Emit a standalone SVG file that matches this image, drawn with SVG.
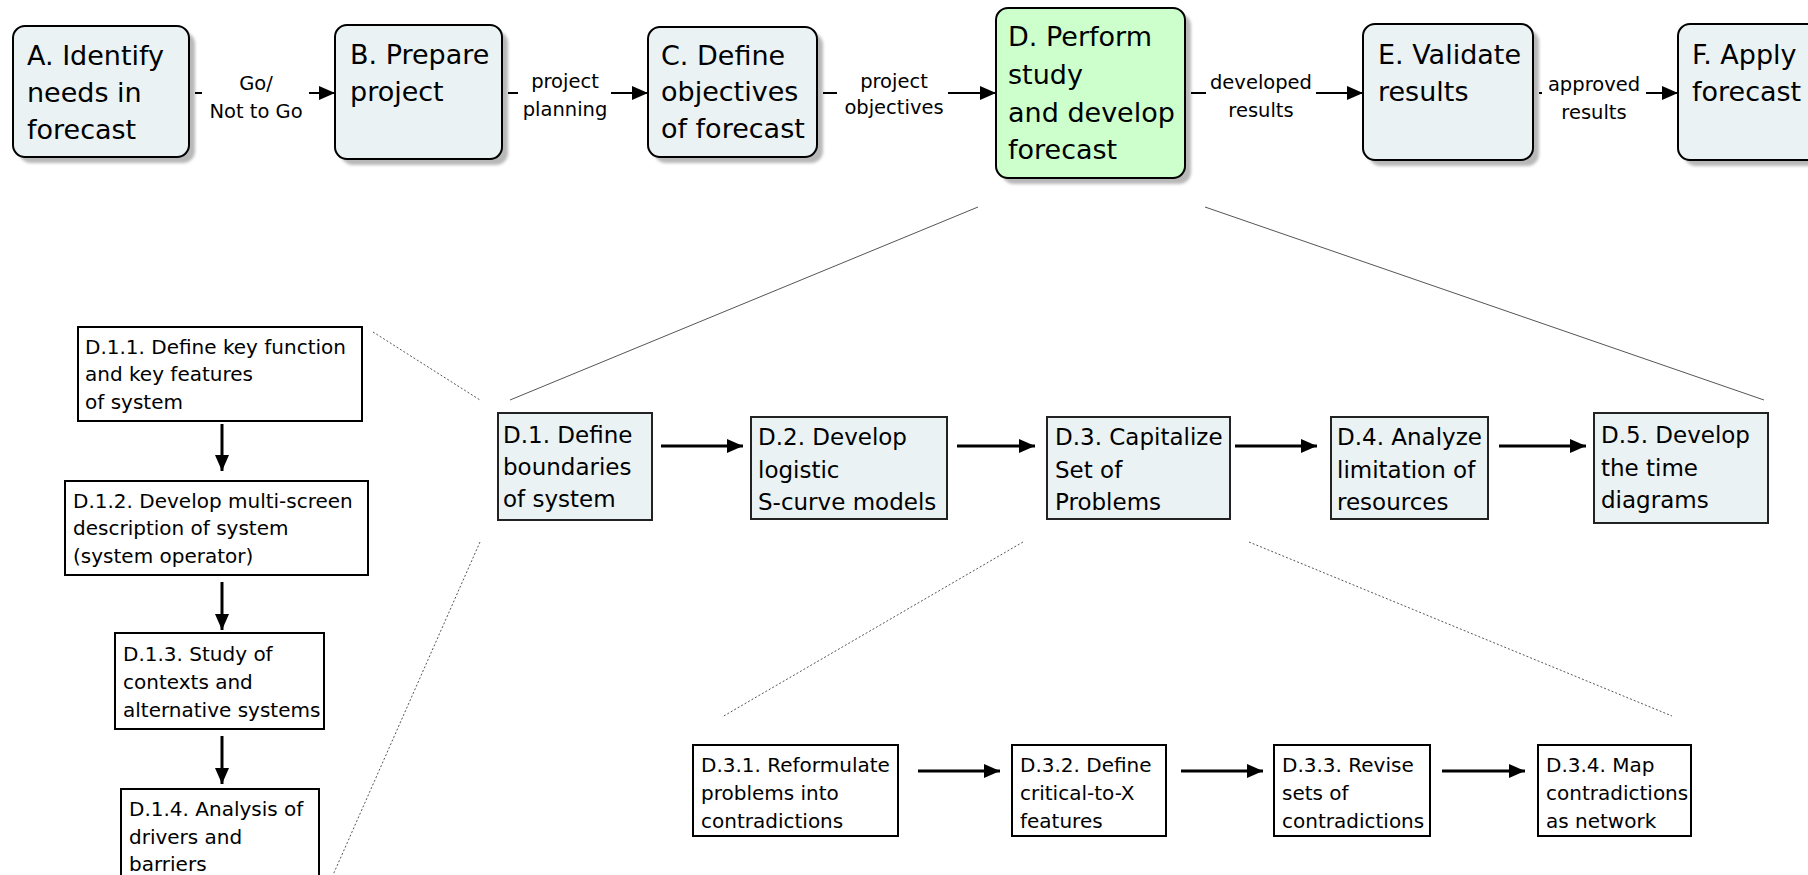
<svg xmlns="http://www.w3.org/2000/svg" width="1808" height="875" viewBox="0 0 1808 875">
  <style>
    .top { fill: #EAF2F4; stroke: #000; stroke-width: 2; }
    .topD { fill: #CCFFCC; stroke: #000; stroke-width: 2; }
    .shadow { fill: #b8b8b8; filter: url(#soft); }
    .mid { fill: #EAF2F4; stroke: #222; stroke-width: 2; }
    .sub { fill: #fff; stroke: #000; stroke-width: 2; }
    .t27 { font-family: "DejaVu Sans", Verdana, sans-serif; font-size: 27px; fill: #000; }
    .t23 { font-family: "DejaVu Sans", Verdana, sans-serif; font-size: 23px; fill: #000; }
    .t20 { font-family: "DejaVu Sans", Verdana, sans-serif; font-size: 20px; fill: #000; }
    .lbl { font-family: "DejaVu Sans", Verdana, sans-serif; font-size: 19.5px; fill: #000; text-anchor: middle; }
    .arrow { fill: none; stroke: #000; stroke-width: 3; marker-end: url(#head); }
    .link { fill: none; stroke: #000; stroke-width: 2; marker-end: url(#head); }
    .zoom { fill: none; stroke: #555; stroke-width: 1; }
    .zoomdot { fill: none; stroke: #555; stroke-width: 1; stroke-dasharray: 2 2; }
  </style>
  <defs>
    <filter id="soft" x="-10%" y="-10%" width="120%" height="120%">
      <feGaussianBlur stdDeviation="1.5"/>
    </filter>
    <marker id="head" viewBox="0 0 16 14" refX="16" refY="7" markerWidth="16" markerHeight="14" markerUnits="userSpaceOnUse" orient="auto">
      <path d="M0,0 L16,7 L0,14 z" fill="#000"/>
    </marker>
  </defs>
  <rect width="1808" height="875" fill="#fff"/>

  <!-- expansion guides -->
  <g id="guides">
    <line class="zoom" x1="978" y1="207" x2="510" y2="400"/>
    <line class="zoom" x1="1205" y1="207" x2="1764" y2="400"/>
    <line class="zoomdot" x1="373" y1="332" x2="480" y2="400"/>
    <line class="zoomdot" x1="480" y1="542" x2="333" y2="875"/>
    <line class="zoomdot" x1="1023" y1="542" x2="722" y2="717"/>
    <line class="zoomdot" x1="1249" y1="542" x2="1672" y2="716"/>
  </g>

  <!-- top-level process -->
  <g id="nodeA">
    <rect class="shadow" x="19" y="32" width="176" height="131" rx="12"/>
    <rect class="top" x="13" y="26" width="176" height="131" rx="12"/>
    <text class="t27"><tspan x="27" y="65">A. Identify</tspan><tspan x="27" y="102">needs in</tspan><tspan x="27" y="139">forecast</tspan></text>
  </g>
  <g id="nodeB">
    <rect class="shadow" x="341" y="31" width="167" height="134" rx="12"/>
    <rect class="top" x="335" y="25" width="167" height="134" rx="12"/>
    <text class="t27"><tspan x="350" y="64">B. Prepare</tspan><tspan x="350" y="101">project</tspan></text>
  </g>
  <g id="nodeC">
    <rect class="shadow" x="654" y="33" width="169" height="130" rx="12"/>
    <rect class="top" x="648" y="27" width="169" height="130" rx="12"/>
    <text class="t27"><tspan x="661" y="65">C. Define</tspan><tspan x="661" y="101">objectives</tspan><tspan x="661" y="138">of forecast</tspan></text>
  </g>
  <g id="nodeD">
    <rect class="shadow" x="1002" y="14" width="189" height="170" rx="12"/>
    <rect class="topD" x="996" y="8" width="189" height="170" rx="12"/>
    <text class="t27"><tspan x="1008" y="46">D. Perform</tspan><tspan x="1008" y="84">study</tspan><tspan x="1008" y="122">and develop</tspan><tspan x="1008" y="159">forecast</tspan></text>
  </g>
  <g id="nodeE">
    <rect class="shadow" x="1369" y="30" width="170" height="136" rx="12"/>
    <rect class="top" x="1363" y="24" width="170" height="136" rx="12"/>
    <text class="t27"><tspan x="1378" y="64">E. Validate</tspan><tspan x="1378" y="101">results</tspan></text>
  </g>
  <g id="nodeF">
    <rect class="shadow" x="1684" y="30" width="170" height="136" rx="12"/>
    <rect class="top" x="1678" y="24" width="170" height="136" rx="12"/>
    <text class="t27"><tspan x="1692" y="64">F. Apply</tspan><tspan x="1692" y="101">forecast</tspan></text>
  </g>

  <!-- D breakdown -->
  <g id="nodeD1">
    <rect class="mid" x="498" y="413" width="154" height="107"/>
    <text class="t23"><tspan x="503" y="443">D.1. Define</tspan><tspan x="503" y="475">boundaries</tspan><tspan x="503" y="507">of system</tspan></text>
  </g>
  <g id="nodeD2">
    <rect class="mid" x="751" y="417" width="196" height="102"/>
    <text class="t23"><tspan x="758" y="445">D.2. Develop</tspan><tspan x="758" y="478">logistic</tspan><tspan x="758" y="510">S-curve models</tspan></text>
  </g>
  <g id="nodeD3">
    <rect class="mid" x="1047" y="417" width="183" height="102"/>
    <text class="t23"><tspan x="1055" y="445">D.3. Capitalize</tspan><tspan x="1055" y="478">Set of</tspan><tspan x="1055" y="510">Problems</tspan></text>
  </g>
  <g id="nodeD4">
    <rect class="mid" x="1331" y="417" width="157" height="102"/>
    <text class="t23"><tspan x="1337" y="445">D.4. Analyze</tspan><tspan x="1337" y="478">limitation of</tspan><tspan x="1337" y="510">resources</tspan></text>
  </g>
  <g id="nodeD5">
    <rect class="mid" x="1594" y="413" width="174" height="110"/>
    <text class="t23"><tspan x="1601" y="443">D.5. Develop</tspan><tspan x="1601" y="476">the time</tspan><tspan x="1601" y="508">diagrams</tspan></text>
  </g>

  <!-- D.1 breakdown -->
  <g id="nodeD11">
    <rect class="sub" x="78" y="327" width="284" height="94"/>
    <text class="t20"><tspan x="85" y="354">D.1.1. Define key function</tspan><tspan x="85" y="381">and key features</tspan><tspan x="85" y="409">of system</tspan></text>
  </g>
  <g id="nodeD12">
    <rect class="sub" x="65" y="481" width="303" height="94"/>
    <text class="t20"><tspan x="73" y="508">D.1.2. Develop multi-screen</tspan><tspan x="73" y="535">description of system</tspan><tspan x="73" y="563">(system operator)</tspan></text>
  </g>
  <g id="nodeD13">
    <rect class="sub" x="115" y="633" width="209" height="96"/>
    <text class="t20"><tspan x="123" y="661">D.1.3. Study of</tspan><tspan x="123" y="689">contexts and</tspan><tspan x="123" y="717">alternative systems</tspan></text>
  </g>
  <g id="nodeD14">
    <rect class="sub" x="121" y="789" width="198" height="100"/>
    <text class="t20"><tspan x="129" y="816">D.1.4. Analysis of</tspan><tspan x="129" y="844">drivers and</tspan><tspan x="129" y="871">barriers</tspan></text>
  </g>

  <!-- D.3 breakdown -->
  <g id="nodeD31">
    <rect class="sub" x="693" y="745" width="205" height="91"/>
    <text class="t20"><tspan x="701" y="772">D.3.1. Reformulate</tspan><tspan x="701" y="800">problems into</tspan><tspan x="701" y="828">contradictions</tspan></text>
  </g>
  <g id="nodeD32">
    <rect class="sub" x="1012" y="745" width="154" height="91"/>
    <text class="t20"><tspan x="1020" y="772">D.3.2. Define</tspan><tspan x="1020" y="800">critical-to-X</tspan><tspan x="1020" y="828">features</tspan></text>
  </g>
  <g id="nodeD33">
    <rect class="sub" x="1274" y="745" width="156" height="91"/>
    <text class="t20"><tspan x="1282" y="772">D.3.3. Revise</tspan><tspan x="1282" y="800">sets of</tspan><tspan x="1282" y="828">contradictions</tspan></text>
  </g>
  <g id="nodeD34">
    <rect class="sub" x="1538" y="745" width="153" height="91"/>
    <text class="t20"><tspan x="1546" y="772">D.3.4. Map</tspan><tspan x="1546" y="800">contradictions</tspan><tspan x="1546" y="828">as network</tspan></text>
  </g>

  <!-- connectors -->
  <g id="connectors">
    <path class="link" d="M195,93 H202 M309,93 H335"/>
    <text class="lbl"><tspan x="256" y="90">Go/</tspan><tspan x="256" y="118">Not to Go</tspan></text>
    <path class="link" d="M508,93 H518 M611,93 H648"/>
    <text class="lbl"><tspan x="565" y="88">project</tspan><tspan x="565" y="116">planning</tspan></text>
    <path class="link" d="M823,93 H837 M948,93 H996"/>
    <text class="lbl"><tspan x="894" y="88">project</tspan><tspan x="894" y="114">objectives</tspan></text>
    <path class="link" d="M1191,93 H1206 M1316,93 H1363"/>
    <text class="lbl"><tspan x="1261" y="89">developed</tspan><tspan x="1261" y="117">results</tspan></text>
    <path class="link" d="M1539,93 H1542 M1646,93 H1678"/>
    <text class="lbl"><tspan x="1594" y="91">approved</tspan><tspan x="1594" y="119">results</tspan></text>

    <path class="arrow" d="M661,446 H743"/>
    <path class="arrow" d="M957,446 H1035"/>
    <path class="arrow" d="M1235,446 H1317"/>
    <path class="arrow" d="M1499,446 H1586"/>

    <path class="arrow" d="M222,424 V471"/>
    <path class="arrow" d="M222,582 V630"/>
    <path class="arrow" d="M222,736 V784"/>

    <path class="arrow" d="M918,771 H1000"/>
    <path class="arrow" d="M1181,771 H1263"/>
    <path class="arrow" d="M1442,771 H1525"/>
  </g>
</svg>
